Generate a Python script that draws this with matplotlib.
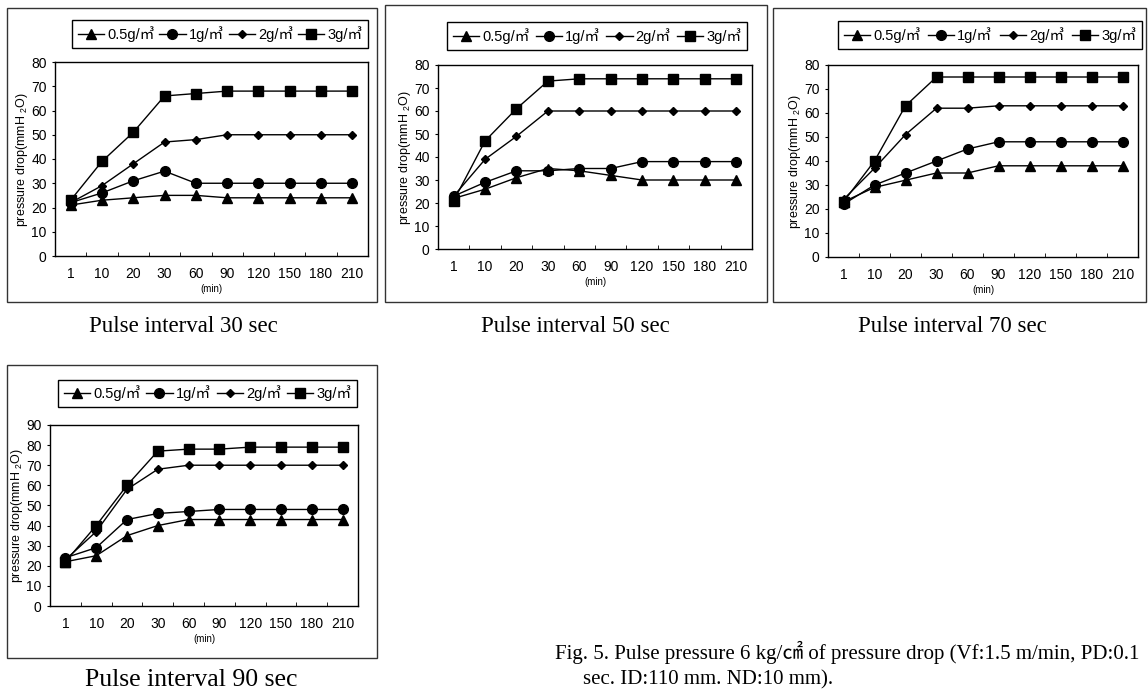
import matplotlib
matplotlib.use('Agg')
import matplotlib.pyplot as plt
from matplotlib.patches import Rectangle

W, H = 1148, 695

minutes = ['1', '10', '20', '30', '60', '90', '120', '150', '180', '210']
dust_labels = ['0.5g/㎥', '1g/㎥', '2g/㎥', '3g/㎥']

# pulse interval 30 sec
p30_05 = [21, 23, 24, 25, 25, 24, 24, 24, 24, 24]
p30_1 = [22, 26, 31, 35, 30, 30, 30, 30, 30, 30]
p30_2 = [22, 29, 38, 47, 48, 50, 50, 50, 50, 50]
p30_3 = [23, 39, 51, 66, 67, 68, 68, 68, 68, 68]
# pulse interval 50 sec
p50_05 = [22, 26, 31, 35, 34, 32, 30, 30, 30, 30]
p50_1 = [23, 29, 34, 34, 35, 35, 38, 38, 38, 38]
p50_2 = [23, 39, 49, 60, 60, 60, 60, 60, 60, 60]
p50_3 = [21, 47, 61, 73, 74, 74, 74, 74, 74, 74]
# pulse interval 70 sec
p70_05 = [23, 29, 32, 35, 35, 38, 38, 38, 38, 38]
p70_1 = [22, 30, 35, 40, 45, 48, 48, 48, 48, 48]
p70_2 = [24, 37, 51, 62, 62, 63, 63, 63, 63, 63]
p70_3 = [23, 40, 63, 75, 75, 75, 75, 75, 75, 75]
# pulse interval 90 sec
p90_05 = [22, 25, 35, 40, 43, 43, 43, 43, 43, 43]
p90_1 = [24, 29, 43, 46, 47, 48, 48, 48, 48, 48]
p90_2 = [23, 37, 58, 68, 70, 70, 70, 70, 70, 70]
p90_3 = [22, 40, 60, 77, 78, 78, 79, 79, 79, 79]

captions = ['Pulse interval 30 sec', 'Pulse interval 50 sec',
            'Pulse interval 70 sec', 'Pulse interval 90 sec']

panels = [
    dict(data=[p30_05, p30_1, p30_2, p30_3], ymax=80,
         plot=(55, 62, 368, 256), leg=(72, 18, 368, 50),
         box=(7, 8, 377, 302), cap=(183, 326, 16.5)),
    dict(data=[p50_05, p50_1, p50_2, p50_3], ymax=80,
         plot=(438, 65, 752, 249), leg=(447, 17, 747, 55),
         box=(385, 5, 767, 302), cap=(575, 326, 16.5)),
    dict(data=[p70_05, p70_1, p70_2, p70_3], ymax=80,
         plot=(828, 65, 1138, 257), leg=(838, 18, 1142, 52),
         box=(773, 8, 1146, 302), cap=(952, 326, 16.5)),
    dict(data=[p90_05, p90_1, p90_2, p90_3], ymax=90,
         plot=(50, 425, 358, 606), leg=(58, 377, 357, 410),
         box=(7, 365, 377, 658), cap=(191, 680, 18.5)),
]

markers = [('^', 7), ('o', 7), ('D', 4.5), ('s', 7.5)]
sans = ['Liberation Sans', 'Noto Sans CJK KR', 'DejaVu Sans']
serif = ['Liberation Serif', 'Noto Sans CJK KR', 'DejaVu Serif']

plt.rcParams['font.family'] = sans
plt.rcParams['mathtext.fontset'] = 'custom'
plt.rcParams['mathtext.rm'] = 'Liberation Sans'

fig = plt.figure(figsize=(W / 100, H / 100), dpi=100)


def fx(px):
    return px / W


def fy(py):
    return 1 - py / H


for i, p in enumerate(panels):
    x0, y0, x1, y1 = p['box']
    fig.patches.append(Rectangle((fx(x0), fy(y1)), fx(x1) - fx(x0), fy(y0) - fy(y1),
                                 transform=fig.transFigure, fill=False,
                                 edgecolor='#333333', linewidth=1.0))
    l, t, r, b = p['plot']
    ax = fig.add_axes([fx(l), fy(b), fx(r) - fx(l), fy(t) - fy(b)])
    handles = []
    for series, (m, ms), lab in zip(p['data'], markers, dust_labels):
        h, = ax.plot(range(len(minutes)), series, color='black', linewidth=1.0,
                     marker=m, markersize=ms, label=lab)
        handles.append(h)
    ax.set_xlim(-0.5, len(minutes) - 0.5)
    ax.set_ylim(0, p['ymax'])
    ax.set_yticks(range(0, p['ymax'] + 1, 10))
    ax.set_xticks(range(len(minutes)))
    ax.set_xticklabels(minutes)
    ax.set_xticks([k + 0.5 for k in range(len(minutes) - 1)], minor=True)
    ax.tick_params(axis='x', which='major', length=0, labelsize=10, pad=8)
    ax.tick_params(axis='x', which='minor', direction='in', length=3)
    ax.tick_params(axis='y', length=2, labelsize=10, pad=4)
    for s in ax.spines.values():
        s.set_linewidth(1.0)
    ax.set_ylabel('pressure drop(mmH $_{2}$O)', fontsize=9, labelpad=1)
    ax.set_xlabel('(min)', fontsize=7, labelpad=2)

    ll, lt, lr, lb = p['leg']
    leg = fig.legend(handles=handles, loc='center', ncol=4, mode='expand',
                     bbox_to_anchor=(fx(ll), fy(lb), fx(lr) - fx(ll), fy(lt) - fy(lb)),
                     bbox_transform=fig.transFigure, fancybox=False,
                     edgecolor='black', framealpha=1, fontsize=10.5,
                     handlelength=1.8, handletextpad=0.2, columnspacing=0.4,
                     borderpad=0.4, borderaxespad=0)
    leg.get_frame().set_linewidth(1.0)

    cx, cy, cs = p['cap']
    fig.text(fx(cx), fy(cy), captions[i], ha='center', va='center',
             fontsize=cs, family=serif)

fig.text(fx(555), fy(652),
         'Fig. 5. Pulse pressure 6 kg/㎠ of pressure drop (Vf:1.5 m/min, PD:0.1',
         ha='left', va='center', fontsize=15, family=serif)
fig.text(fx(583), fy(680), 'sec. ID:110 mm. ND:10 mm).',
         ha='left', va='center', fontsize=15, family=serif)

fig.savefig('out.png', dpi=100)
